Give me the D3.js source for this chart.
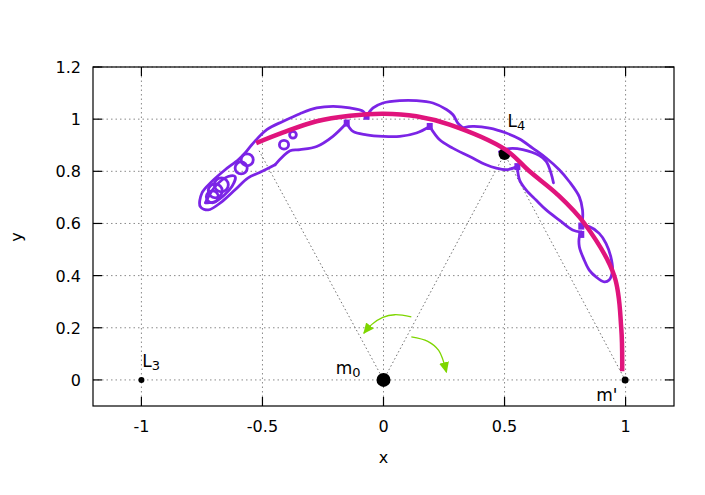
<!DOCTYPE html>
<html><head><meta charset="utf-8">
<script src="https://cdn.jsdelivr.net/npm/d3@7"></script>
<style>body{margin:0;background:#fff}svg{display:block;font-family:"DejaVu Sans",sans-serif}</style>
</head><body><svg id="c" width="705" height="495"></svg>
<script>
// ---- data ----
const xTicks=[-1,-0.5,0,0.5,1];
const xTickLabels=["-1","-0.5","0","0.5","1"];
const yTicks=[0,0.2,0.4,0.6,0.8,1,1.2];
const yTickLabels=["0","0.2","0.4","0.6","0.8","1","1.2"];

// guiding arc (magenta)
const arcX=[-0.526,-0.414,-0.276,-0.139,0,0.136,0.273,0.504,0.603,0.72,0.83,0.953,0.982,0.986];
const arcY=[0.908,0.949,0.992,1.013,1.021,1.011,0.979,0.883,0.8,0.71,0.6,0.4,0.2,0.033];

// main trajectory (purple)
const orbitX=[-0.448,-0.503,-0.559,-0.613,-0.667,-0.724,-0.757,-0.750,-0.709,-0.654,-0.600,-0.571,-0.544,-0.482,-0.414,-0.345,-0.276,-0.208,-0.139,-0.084,-0.070,-0.043,-0.002,0.067,0.136,0.204,0.260,0.287,0.307,0.328,0.369,0.438,0.507,0.562,0.616,0.672,0.726,0.768,0.809,0.822,0.822,0.817,0.850,0.891,0.919,0.939,0.946,0.932,0.912,0.878,0.850,0.829,0.809,0.809,0.817,0.781,0.726,0.672,0.630,0.589,0.562,0.553,0.507,0.466,0.424,0.356,0.286,0.232,0.191,0.136,0.067,-0.002,-0.070,-0.126,-0.152,-0.209,-0.276,-0.345,-0.386,-0.448];
const orbitY=[0.825,0.799,0.775,0.729,0.684,0.652,0.665,0.717,0.761,0.806,0.844,0.871,0.902,0.960,0.992,1.021,1.043,1.049,1.043,1.030,1.011,1.043,1.062,1.071,1.071,1.062,1.037,1.017,0.985,0.967,0.972,0.966,0.947,0.924,0.889,0.851,0.806,0.760,0.702,0.652,0.613,0.590,0.588,0.562,0.524,0.472,0.421,0.383,0.376,0.395,0.421,0.460,0.511,0.549,0.567,0.575,0.613,0.652,0.690,0.729,0.767,0.818,0.806,0.812,0.825,0.857,0.889,0.921,0.972,0.947,0.934,0.934,0.940,0.953,0.985,0.934,0.895,0.883,0.879,0.825];
// indices of the sharp cusps along the trajectory
const cuspIndex=[20,29,41,54,61,68,74];

// hook leaving L4 to the right
const hookX=[0.479,0.520,0.575,0.644,0.672,0.692,0.702];
const hookY=[0.875,0.887,0.883,0.860,0.838,0.793,0.756];

// elongated inner loop of the tail
const innerX=[-0.736,-0.695,-0.642,-0.613,-0.626,-0.695,-0.736];
const innerY=[0.679,0.742,0.780,0.780,0.742,0.684,0.679];

// small epicycle loops (centre and radii, data units)
const loopX=[-0.588,-0.563,-0.695,-0.670,-0.707,-0.411,-0.374];
const loopY=[0.813,0.844,0.725,0.748,0.702,0.902,0.940];
const loopRx=[0.025,0.025,0.029,0.029,0.025,0.019,0.014];
const loopRy=[0.023,0.023,0.027,0.027,0.023,0.017,0.013];

// cusp markers on the trajectory
const markX=[-0.152,-0.070,0.191,0.553,0.817,0.817];
const markY=[0.985,1.011,0.972,0.818,0.590,0.558];

// bodies / Lagrange points
const bodyX=[-1,0,0.5,0.998];
const bodyY=[0,0,0.866,0];
const bodyR=[3,7,6,3.5];

// triangle (dotted)
const triX=[-0.514,0,0.5,0.998];
const triY=[0.879,0,0.866,0];

// labels
const labelMain=["L","m","L","m'"];
const labelSub=["3","0","4",""];
const labelX=[-0.997,-0.197,0.512,0.879];
const labelY=[0.049,0.024,0.971,-0.079];

// green arrows
const arrow1X=[0.115,0.047,-0.003,-0.048,-0.081];
const arrow1Y=[0.242,0.250,0.240,0.213,0.179];
const arrow2X=[0.115,0.183,0.228,0.260];
const arrow2Y=[0.165,0.148,0.113,0.030];

// ---- drawing ----
const svg=d3.select("#c");
const L=93,R=674,T=67,B=406;
const x=d3.scaleLinear().domain([-1.2,1.2]).range([L,R]);
const y=d3.scaleLinear().domain([-0.1,1.2]).range([B,T]);
const zip=(a,b)=>a.map((v,i)=>[v,b[i]]);
const line=d3.line().x(d=>x(d[0])).y(d=>y(d[1])).curve(d3.curveCatmullRom.alpha(0.5));
const straight=d3.line().x(d=>x(d[0])).y(d=>y(d[1]));

const defs=svg.append("defs");
defs.append("marker").attr("id","ah").attr("viewBox","0 0 10 10").attr("refX",9).attr("refY",5)
  .attr("markerWidth",11).attr("markerHeight",11).attr("markerUnits","userSpaceOnUse").attr("orient","auto")
  .append("path").attr("d","M0,0.5 L10,5 L0,9.5 Z").attr("fill","#7ed600");

// grid
const g=svg.append("g").attr("stroke","#8a8a8a").attr("stroke-width",1).attr("stroke-dasharray","1.5,3");
xTicks.forEach(t=>g.append("line").attr("x1",x(t)).attr("x2",x(t)).attr("y1",T).attr("y2",B));
yTicks.forEach(t=>g.append("line").attr("x1",L).attr("x2",R).attr("y1",y(t)).attr("y2",y(t)));

// triangle lines
const tri=svg.append("g").attr("stroke","#707070").attr("stroke-width",1).attr("stroke-dasharray","1.5,2.5").attr("fill","none");
tri.append("path").attr("d",straight(zip(triX,triY)));

// trajectory, split at cusps
const purple="#7b24e6";
const pg=svg.append("g").attr("stroke",purple).attr("fill","none").attr("stroke-width",2.8).attr("stroke-linejoin","round").attr("stroke-linecap","round");
const pts=zip(orbitX,orbitY);
const cuts=[0,...cuspIndex,pts.length-1];
for(let k=0;k<cuts.length-1;k++) pg.append("path").attr("d",line(pts.slice(cuts[k],cuts[k+1]+1)));
pg.append("path").attr("d",line(zip(hookX,hookY)));
pg.append("path").attr("d",line(zip(innerX,innerY)));
loopX.forEach((v,i)=>pg.append("ellipse").attr("cx",x(v)).attr("cy",y(loopY[i]))
  .attr("rx",x(v+loopRx[i])-x(v)).attr("ry",y(loopY[i])-y(loopY[i]+loopRy[i])));
svg.append("g").selectAll("rect").data(zip(markX,markY)).join("rect")
  .attr("x",d=>x(d[0])-3).attr("y",d=>y(d[1])-3.5).attr("width",6).attr("height",7).attr("fill",purple);

// bodies
svg.append("g").selectAll("circle").data(bodyX).join("circle")
  .attr("cx",d=>x(d)).attr("cy",(d,i)=>y(bodyY[i])).attr("r",(d,i)=>bodyR[i]).attr("fill","#000");

// magenta arc
svg.append("path").attr("d",line(zip(arcX,arcY))).attr("fill","none").attr("stroke","#e0147c")
  .attr("stroke-width",4.5).attr("stroke-linecap","butt");

// arrows
[[arrow1X,arrow1Y],[arrow2X,arrow2Y]].forEach(([ax,ay])=>{
  svg.append("path").attr("d",line(zip(ax,ay))).attr("fill","none").attr("stroke","#7ed600")
    .attr("stroke-width",1.3).attr("marker-end","url(#ah)");
});

// labels
labelMain.forEach((t,i)=>{
  const tx=svg.append("text").attr("x",x(labelX[i])).attr("y",y(labelY[i])).attr("font-size",17).attr("fill","#000").text(t);
  if(labelSub[i]) tx.append("tspan").attr("font-size",13).attr("dy",3).text(labelSub[i]);
});

// frame + ticks
svg.append("rect").attr("x",L).attr("y",T).attr("width",R-L).attr("height",B-T).attr("fill","none").attr("stroke","#000").attr("stroke-width",1.2);
const tk=svg.append("g").attr("stroke","#000").attr("stroke-width",1.2);
xTicks.forEach(t=>{
  tk.append("line").attr("x1",x(t)).attr("x2",x(t)).attr("y1",B).attr("y2",B-9);
  tk.append("line").attr("x1",x(t)).attr("x2",x(t)).attr("y1",T).attr("y2",T+9);
});
yTicks.forEach(t=>{
  tk.append("line").attr("x1",L).attr("x2",L+9).attr("y1",y(t)).attr("y2",y(t));
  tk.append("line").attr("x1",R).attr("x2",R-9).attr("y1",y(t)).attr("y2",y(t));
});
svg.append("g").selectAll("text").data(xTicks).join("text")
  .attr("x",d=>x(d)).attr("y",B+26).attr("text-anchor","middle").attr("font-size",16).text((d,i)=>xTickLabels[i]);
svg.append("g").selectAll("text").data(yTicks).join("text")
  .attr("x",L-12).attr("y",d=>y(d)+6).attr("text-anchor","end").attr("font-size",16).text((d,i)=>yTickLabels[i]);
svg.append("text").attr("x",(L+R)/2).attr("y",463).attr("text-anchor","middle").attr("font-size",16).text("x");
svg.append("text").attr("transform","translate(22,237) rotate(-90)").attr("text-anchor","middle").attr("font-size",16).text("y");
</script></body></html>
